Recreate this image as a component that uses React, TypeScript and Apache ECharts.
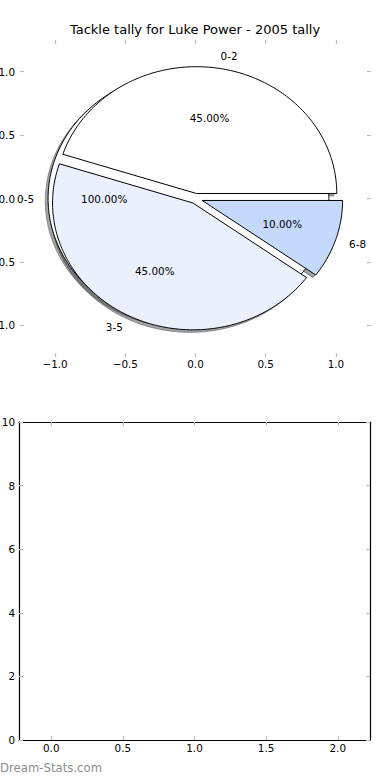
import React, { useEffect, useRef } from "react";
import * as echarts from "echarts";

// ---------- data ----------
const chartTitle = "Tackle tally for Luke Power - 2005 tally";
const categories = ["0-2", "3-5", "6-8"];
const shares = [45, 45, 10];
const explodes = [0.04, 0.04, 0.05];
const sliceColors = ["#ffffff", "#eaf0fd", "#c5d9fd"];
const baseCategories = ["0-5"];
const baseShares = [100];
const baseExplodes = [0.05];
const baseColors = ["#ffffff"];
const topXTicks = [-1, -0.5, 0, 0.5, 1];
const topYTicks = [-1, -0.5, 0, 0.5, 1];
const bottomXTicks = [0, 0.5, 1, 1.5, 2];
const bottomYTicks = [0, 2, 4, 6, 8, 10];
const watermark = "Dream-Stats.com";

const FONT = "DejaVu Sans";
const TICK_COLOR = "#bdbdbd";

function shadowOf(hex: string): string {
  const n = parseInt(hex.slice(1), 16);
  const r = Math.round(((n >> 16) & 255) * 0.3);
  const g = Math.round(((n >> 8) & 255) * 0.3);
  const b = Math.round((n & 255) * 0.3);
  return `rgba(${r},${g},${b},0.5)`;
}

type Kind = "shadow" | "wedge" | "label";

function makePie(kind: Kind, labels: string[], values: number[], explode: number[], colors: string[]) {
  const total = values.reduce((a, b) => a + b, 0);
  return (params: any, api: any) => {
    const i = params.dataIndex;
    const v = api.value(0);
    let start = 0;
    for (let k = 0; k < i; k++) start += (values[k] / total) * 360;
    const end = start + (v / total) * 360;
    const midR = (((start + end) / 2) * Math.PI) / 180;
    const e = explode[i];
    const cx = e * Math.cos(midR);
    const cy = e * Math.sin(midR);
    const full = end - start >= 359.999;
    const pts = (ox: number, oy: number) => {
      const arr: number[][] = [];
      if (!full) arr.push(api.coord([cx + ox, cy + oy]));
      const n = Math.max(4, Math.ceil(end - start));
      for (let j = 0; j <= n; j++) {
        const a = ((start + ((end - start) * j) / n) * Math.PI) / 180;
        arr.push(api.coord([cx + ox + Math.cos(a), cy + oy + Math.sin(a)]));
      }
      return arr;
    };
    if (kind === "shadow") {
      const sh = shadowOf(colors[i]);
      return {
        type: "polygon",
        shape: { points: pts(-0.02, -0.02) },
        style: { fill: sh, stroke: sh, lineWidth: 1 },
      };
    }
    if (kind === "wedge") {
      return {
        type: "polygon",
        shape: { points: pts(0, 0) },
        style: { fill: colors[i], stroke: "#000", lineWidth: 1 },
      };
    }
    const lx = cx + 1.1 * Math.cos(midR);
    const lblPos = api.coord([lx, cy + 1.1 * Math.sin(midR)]);
    const pctPos = api.coord([cx + 0.6 * Math.cos(midR), cy + 0.6 * Math.sin(midR)]);
    const ts = { verticalAlign: "middle", fontSize: 10.4, fontFamily: FONT, fill: "#000" };
    return {
      type: "group",
      children: [
        {
          type: "text",
          style: { ...ts, text: labels[i], x: lblPos[0], y: lblPos[1], align: lx > 0 ? "left" : "right" },
        },
        {
          type: "text",
          style: { ...ts, text: ((v / total) * 100).toFixed(2) + "%", x: pctPos[0], y: pctPos[1], align: "center" },
        },
      ],
    };
  };
}

const fmt1 = (v: number) => (Math.abs(v) < 1e-9 ? "0.0" : v.toFixed(1).replace("-", "\u2212"));

function tickAxis(extra: any) {
  return {
    type: "value",
    splitLine: { show: false },
    axisLine: { show: false, onZero: false },
    ...extra,
  };
}

export default function App() {
  const ref = useRef<HTMLDivElement>(null);
  useEffect(() => {
    document.body.style.margin = "0";
    const chart = echarts.init(ref.current!, undefined, { renderer: "svg" });
    const tick = (vals: number[]) => ({
      show: true,
      inside: true,
      length: 4,
      customValues: vals,
      lineStyle: { color: TICK_COLOR, width: 1.2 },
    });
    const lbl = (vals: number[], margin: number, f: (v: number) => string) => ({
      show: true,
      customValues: vals,
      formatter: f,
      margin,
      fontSize: 10.4,
      fontFamily: FONT,
      color: "#000",
    });
    const frame = { show: true, onZero: false, lineStyle: { color: "#000", width: 1.2 } };
    const intFmt = (v: number) => String(Math.round(v));
    const pieSeries = (
      kind: Kind,
      z: number,
      labels: string[],
      values: number[],
      explode: number[],
      colors: string[]
    ) => ({
      type: "custom",
      xAxisIndex: 0,
      yAxisIndex: 0,
      clip: false,
      silent: true,
      z,
      data: values.map((v, i) => [v, i]),
      encode: { x: 1, y: 1 },
      renderItem: makePie(kind, labels, values, explode, colors),
    });
    chart.setOption({
      animation: false,
      backgroundColor: "#fff",
      title: {
        text: chartTitle,
        left: "center",
        top: 23,
        padding: 0,
        textStyle: { fontSize: 13, fontWeight: "normal", fontFamily: FONT, color: "#000" },
      },
      grid: [
        { left: 20, right: 19, top: 40, bottom: 423, outerBoundsMode: "none", containLabel: false },
        { left: 19, right: 20, top: 422, bottom: 40, outerBoundsMode: "none", containLabel: false },
      ],
      xAxis: [
        tickAxis({ gridIndex: 0, position: "bottom", min: -1.25, max: 1.25, axisTick: tick(topXTicks), axisLabel: lbl(topXTicks, 2, fmt1) }),
        tickAxis({ gridIndex: 0, position: "top", min: -1.25, max: 1.25, axisTick: tick(topXTicks), axisLabel: { show: false } }),
        tickAxis({ gridIndex: 1, position: "bottom", min: -0.225, max: 2.225, axisLine: frame, axisTick: tick(bottomXTicks), axisLabel: lbl(bottomXTicks, 3, fmt1) }),
        tickAxis({ gridIndex: 1, position: "top", min: -0.225, max: 2.225, axisLine: frame, axisTick: tick(bottomXTicks), axisLabel: { show: false } }),
      ],
      yAxis: [
        tickAxis({ gridIndex: 0, position: "left", min: -1.25, max: 1.25, axisTick: tick(topYTicks), axisLabel: lbl(topYTicks, 5, fmt1) }),
        tickAxis({ gridIndex: 0, position: "right", min: -1.25, max: 1.25, axisTick: tick(topYTicks), axisLabel: { show: false } }),
        tickAxis({ gridIndex: 1, position: "left", min: 0, max: 10, axisLine: frame, axisTick: tick(bottomYTicks), axisLabel: lbl(bottomYTicks, 4, intFmt) }),
        tickAxis({ gridIndex: 1, position: "right", min: 0, max: 10, axisLine: frame, axisTick: tick(bottomYTicks), axisLabel: { show: false } }),
      ],
      series: [
        pieSeries("shadow", 1, baseCategories, baseShares, baseExplodes, baseColors),
        pieSeries("shadow", 1, categories, shares, explodes, sliceColors),
        pieSeries("wedge", 2, baseCategories, baseShares, baseExplodes, baseColors),
        pieSeries("wedge", 3, categories, shares, explodes, sliceColors),
        pieSeries("label", 4, baseCategories, baseShares, baseExplodes, baseColors),
        pieSeries("label", 4, categories, shares, explodes, sliceColors),
      ],
      graphic: [
        {
          type: "text",
          left: 0,
          top: 762,
          style: { text: watermark, fontSize: 11.7, fontFamily: FONT, fill: "#8c8c8c" },
        },
      ],
    });
    return () => chart.dispose();
  }, []);
  return <div ref={ref} style={{ width: 390, height: 780 }} />;
}
